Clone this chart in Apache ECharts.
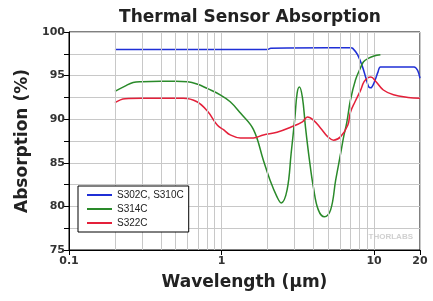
<!DOCTYPE html>
<html>
<head>
<meta charset="utf-8">
<script src="https://cdn.jsdelivr.net/npm/echarts@6/dist/echarts.min.js"></script>
<style>
  html, body { margin: 0; padding: 0; background: #fff; }
  #chart { width: 433px; height: 301px; }
</style>
</head>
<body>
<div id="chart"></div>
<script>
// wavelength (um) / absorption (%)
var wlBlue  = [0.2, 1.0, 2.0, 2.1, 5.0, 7.0, 7.22, 7.79, 8.4, 8.8, 9.22, 9.52, 9.98, 10.6, 11.0, 15.0, 18.3, 19.3, 20];
var absBlue = [98.0, 98.0, 98.0, 98.15, 98.2, 98.2, 98.15, 97.4, 96.0, 94.85, 93.7, 93.6, 94.15, 95.4, 96.0, 96.0, 96.0, 95.6, 94.7];

var wlGreen  = [0.2, 0.233, 0.263, 0.3, 0.4, 0.5, 0.6, 0.7, 0.81, 0.98, 1.14, 1.33, 1.62, 1.88, 2.08, 2.31, 2.46, 2.69, 2.86, 3.03, 3.13, 3.24, 3.39, 3.55, 3.77, 4.0, 4.31, 4.73, 5.19, 5.6, 6.04, 6.32, 6.62, 7.0, 7.55, 8.15, 8.53, 9.22, 9.98, 11.0];
var absGreen = [93.2, 93.8, 94.2, 94.3, 94.35, 94.35, 94.3, 94.0, 93.5, 92.8, 92.0, 90.7, 88.8, 85.3, 83.0, 81.1, 80.4, 81.9, 86.1, 90.3, 93.0, 93.7, 92.5, 89.1, 85.3, 82.2, 79.6, 78.8, 79.6, 83.0, 86.1, 88.0, 89.6, 92.2, 94.5, 95.9, 96.6, 97.0, 97.25, 97.4];

var wlRed  = [0.2, 0.233, 0.3, 0.4, 0.56, 0.69, 0.81, 0.94, 1.03, 1.14, 1.33, 1.62, 1.88, 2.31, 2.86, 3.39, 3.66, 4.0, 4.45, 4.96, 5.43, 6.04, 6.72, 7.0, 7.5, 8.15, 8.6, 9.2, 9.52, 10.3, 11.5, 13.4, 16.7, 20];
var absRed = [91.9, 92.35, 92.4, 92.4, 92.4, 92.0, 90.9, 89.3, 88.8, 88.2, 87.85, 87.85, 88.2, 88.5, 89.1, 89.7, 90.25, 89.9, 89.0, 88.0, 87.6, 88.0, 89.3, 90.8, 92.0, 93.3, 94.3, 94.8, 94.85, 94.3, 93.35, 92.8, 92.5, 92.4];

var seriesNames = ['S302C, S310C', 'S314C', 'S322C'];
var xTickValues = [0.1, 1, 10, 20];
var xMinorGrid = [0.2, 0.3, 0.4, 0.5, 0.6, 0.7, 0.8, 0.9, 2, 3, 4, 5, 6, 7, 8, 9];

function zip(xs, ys) {
  var out = [];
  for (var i = 0; i < xs.length; i++) out.push([xs[i], ys[i]]);
  return out;
}

var chart = echarts.init(document.getElementById('chart'));
var boldFont = 'DejaVu Sans, Verdana, sans-serif';
var legendFont = 'Liberation Sans, Arial, sans-serif';

var option = {
  animation: false,
  backgroundColor: '#fff',
  title: {
    text: 'Thermal Sensor Absorption',
    left: 245,
    textAlign: 'center',
    top: 4,
    textStyle: { fontFamily: boldFont, fontSize: 17, fontWeight: 'bold', color: '#222' }
  },
  grid: {
    left: 69, right: 13, top: 32, bottom: 51,
    show: true, borderColor: '#000', borderWidth: 1, backgroundColor: '#fff'
  },
  legend: {
    data: seriesNames,
    orient: 'vertical',
    left: 78, top: 186,
    backgroundColor: '#fff',
    borderColor: '#000', borderWidth: 1, borderRadius: 0,
    padding: [4, 5, 4, 9],
    itemGap: 4,
    itemWidth: 25, itemHeight: 2,
    icon: 'rect',
    itemStyle: { borderWidth: 0 },
    textStyle: { fontFamily: legendFont, fontSize: 10, color: '#222' },
    z: 10
  },
  xAxis: {
    type: 'log',
    logBase: 10,
    min: 0.1, max: 20,
    name: 'Wavelength (µm)',
    nameLocation: 'middle',
    nameGap: 24,
    nameTextStyle: { fontFamily: boldFont, fontSize: 17, fontWeight: 'bold', color: '#222' },
    axisLine: { lineStyle: { color: '#000', width: 1 } },
    axisTick: { show: true, length: 5, lineStyle: { color: '#000' } },
    axisLabel: {
      fontFamily: boldFont, fontSize: 11, fontWeight: 'bold', color: '#333', margin: 6,
      showMaxLabel: true, showMinLabel: true,
      formatter: function (v) {
        var r = +(+v).toPrecision(3);
        return xTickValues.indexOf(r) >= 0 ? String(r) : '';
      }
    },
    splitLine: { show: true, lineStyle: { color: '#c8c8c8', width: 1 } }
  },
  yAxis: {
    type: 'value',
    min: 75, max: 100, interval: 2.5,
    name: 'Absorption (%)',
    nameLocation: 'middle',
    nameGap: 36,
    nameTextStyle: { fontFamily: boldFont, fontSize: 17, fontWeight: 'bold', color: '#222' },
    axisLine: { show: true, lineStyle: { color: '#000', width: 1 } },
    axisTick: { show: true, length: 5, lineStyle: { color: '#000' } },
    axisLabel: {
      fontFamily: boldFont, fontSize: 11, fontWeight: 'bold', color: '#333', margin: 4,
      formatter: function (v) { return v % 5 === 0 ? String(v) : ''; }
    },
    splitLine: { show: true, lineStyle: { color: '#c8c8c8', width: 1 } }
  },
  graphic: [{
    type: 'text',
    right: 20, top: 233,
    style: { text: 'THORLABS', fill: '#d0d0d0', font: 'bold 8px ' + legendFont }
  }],
  series: [
    {
      name: '_grid', type: 'line', data: [], z: 1, silent: true,
      markLine: {
        silent: true, symbol: ['none', 'none'], animation: false,
        label: { show: false },
        lineStyle: { color: '#c8c8c8', width: 1, type: 'solid' },
        emphasis: { disabled: true },
        data: xMinorGrid.map(function (v) { return { xAxis: v }; })
      }
    },
    {
      name: seriesNames[0], type: 'line', data: zip(wlBlue, absBlue), z: 3,
      showSymbol: false, smooth: 0.3,
      color: '#1f2fd6', lineStyle: { width: 1.5, color: '#1f2fd6' }
    },
    {
      name: seriesNames[1], type: 'line', data: zip(wlGreen, absGreen), z: 3,
      showSymbol: false, smooth: 0.4,
      color: '#2a8a2a', lineStyle: { width: 1.5, color: '#2a8a2a' }
    },
    {
      name: seriesNames[2], type: 'line', data: zip(wlRed, absRed), z: 3,
      showSymbol: false, smooth: 0.4,
      color: '#e4203a', lineStyle: { width: 1.5, color: '#e4203a' }
    }
  ]
};

chart.setOption(option);
</script>
</body>
</html>
